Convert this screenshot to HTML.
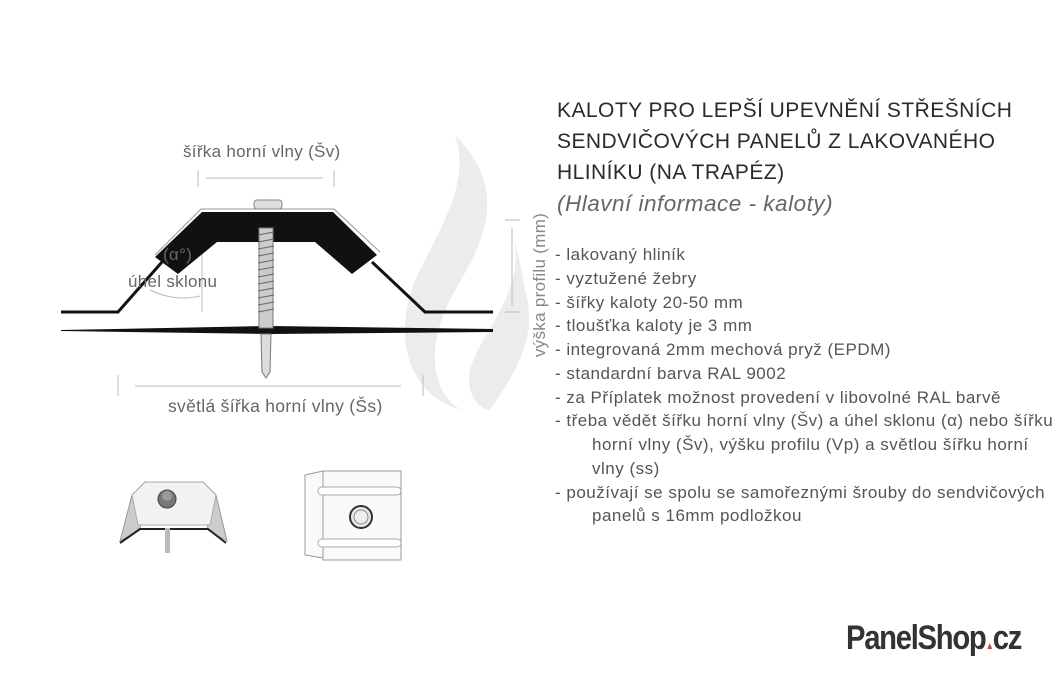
<!DOCTYPE html>
<html><head><meta charset="utf-8"><style>
body{margin:0;width:1060px;height:680px;background:#fff;position:relative;overflow:hidden;font-family:"Liberation Sans",sans-serif;}
.t{position:absolute;white-space:nowrap;}
.h{left:557px;font-size:21px;color:#2a2a2a;letter-spacing:0.45px;}
.li{position:absolute;left:555px;font-size:17px;color:#555;white-space:nowrap;letter-spacing:0.5px;}
.ind{left:592px;}
.d{font-size:17px;color:#666;letter-spacing:0.3px;}
</style></head><body>
<svg width="1060" height="680" style="position:absolute;left:0;top:0">
<path d="M455 135 C 520 200 470 260 450 300 C 420 360 440 400 462 410 C 405 395 390 330 420 270 C 445 220 470 180 455 135 Z" fill="#ececec"/>
<path d="M505 215 C 540 280 480 330 470 370 C 465 395 480 410 490 410 C 510 380 540 340 525 290 C 520 260 515 235 505 215 Z" fill="#ececec"/>
<g stroke="#bbb" stroke-width="1" fill="none">
<line x1="198" y1="170" x2="198" y2="187"/><line x1="334" y1="170" x2="334" y2="187"/>
<line x1="206" y1="178" x2="323" y2="178"/>
<line x1="118" y1="375" x2="118" y2="396"/><line x1="423" y1="375" x2="423" y2="396"/>
<line x1="135" y1="386" x2="401" y2="386"/>
<line x1="505" y1="220" x2="520" y2="220"/><line x1="505" y1="312" x2="520" y2="312"/>
<line x1="512" y1="228" x2="512" y2="306"/>
<line x1="202" y1="215" x2="202" y2="312"/>
<path d="M150 290 Q 175 302 200 296"/>
</g>
<polyline points="61,312 118,312 162,262" fill="none" stroke="#111" stroke-width="3"/>
<polyline points="372,262 425,312 493,312" fill="none" stroke="#111" stroke-width="3"/>
<path d="M61 330 L 270 326 L 493 329 L 493 332 L 270 334 L 61 331 Z" fill="#111"/>
<polygon points="155,257 202,212 333,212 377,255 352,274 315,242 217,242 178,274" fill="#111"/>
<polyline points="155,255 201,209 334,209 380,252" fill="none" stroke="#999" stroke-width="1"/>
<rect x="254" y="200" width="28" height="9" rx="3" fill="#ddd" stroke="#888"/>
<rect x="259" y="228" width="14" height="100" fill="#ccc" stroke="#777" stroke-width="1"/>
<g stroke="#666" stroke-width="1">
<line x1="258" y1="235" x2="274" y2="232"/><line x1="258" y1="242" x2="274" y2="239"/><line x1="258" y1="249" x2="274" y2="246"/><line x1="258" y1="256" x2="274" y2="253"/><line x1="258" y1="263" x2="274" y2="260"/><line x1="258" y1="270" x2="274" y2="267"/><line x1="258" y1="277" x2="274" y2="274"/><line x1="258" y1="284" x2="274" y2="281"/><line x1="258" y1="291" x2="274" y2="288"/><line x1="258" y1="298" x2="274" y2="295"/><line x1="258" y1="305" x2="274" y2="302"/><line x1="258" y1="312" x2="274" y2="309"/>
</g>
<path d="M261 334 L 271 334 L 270 372 L 266 378 L 262 372 Z" fill="#ddd" stroke="#777"/>
<polygon points="120,541 132,495 145,482 140,530" fill="#ccc" stroke="#999"/>
<polygon points="227,541 216,495 203,482 208,530" fill="#ccc" stroke="#999"/>
<polygon points="145,482 203,482 216,495 210,525 138,525 132,495" fill="#f2f2f2" stroke="#aaa"/>
<polyline points="120,543 140,529 208,529 226,543" fill="none" stroke="#222" stroke-width="2"/>
<rect x="165" y="528" width="5" height="25" fill="#bbb"/>
<circle cx="167" cy="499" r="9" fill="#777" stroke="#444"/>
<circle cx="167" cy="496" r="5" fill="#999"/>
<polygon points="305,475 323,471 323,558 305,555" fill="#fafafa" stroke="#999"/>
<rect x="323" y="471" width="78" height="89" fill="#fafafa" stroke="#999"/>
<rect x="318" y="487" width="83" height="8" rx="4" fill="#fff" stroke="#aaa"/>
<rect x="318" y="539" width="83" height="8" rx="4" fill="#fff" stroke="#aaa"/>
<circle cx="361" cy="517" r="11" fill="#e8e8e8" stroke="#333" stroke-width="2"/>
<circle cx="361" cy="517" r="7" fill="#eee" stroke="#888"/>
</svg>
<div class="t d" style="left:183px;top:142px">šířka horní vlny (Šv)</div>
<div class="t d" style="left:163px;top:245px">(α°)</div>
<div class="t d" style="left:128px;top:272px">úhel sklonu</div>
<div class="t d" style="left:168px;top:396px;font-size:17.5px">světlá šířka horní vlny (Šs)</div>
<div class="t d" style="left:465px;top:275px;color:#888;transform:rotate(-90deg);width:150px;text-align:center">výška profilu (mm)</div>
<div class="t h" style="top:99px">KALOTY PRO LEPŠÍ UPEVNĚNÍ STŘEŠNÍCH</div>
<div class="t h" style="top:130px">SENDVIČOVÝCH PANELŮ Z LAKOVANÉHO</div>
<div class="t h" style="top:161px">HLINÍKU (NA TRAPÉZ)</div>
<div class="t" style="left:557px;top:191px;font-size:22.5px;color:#666;font-style:italic;letter-spacing:0.5px">(Hlavní informace - kaloty)</div>
<div class="li" style="top:245px">- lakovaný hliník</div>
<div class="li" style="top:269px">- vyztužené žebry</div>
<div class="li" style="top:293px">- šířky kaloty 20-50 mm</div>
<div class="li" style="top:316px">- tloušťka kaloty je 3 mm</div>
<div class="li" style="top:340px">- integrovaná 2mm mechová pryž (EPDM)</div>
<div class="li" style="top:364px">- standardní barva RAL 9002</div>
<div class="li" style="top:388px">- za Příplatek možnost provedení v libovolné RAL barvě</div>
<div class="li" style="top:411px">- třeba vědět šířku horní vlny (Šv) a úhel sklonu (α) nebo šířku</div>
<div class="li ind" style="top:435px">horní vlny (Šv), výšku profilu (Vp) a světlou šířku horní</div>
<div class="li ind" style="top:459px">vlny (ss)</div>
<div class="li" style="top:483px">- používají se spolu se samořeznými šrouby do sendvičových</div>
<div class="li ind" style="top:506px">panelů s 16mm podložkou</div>
<div class="t" style="left:846px;top:619px;font-size:34px;font-weight:bold;color:#333;letter-spacing:-1.5px;transform:scaleX(0.86);transform-origin:left">PanelShop<span style="font-size:10px;color:#c44">&#9650;</span>cz</div>
</body></html>
